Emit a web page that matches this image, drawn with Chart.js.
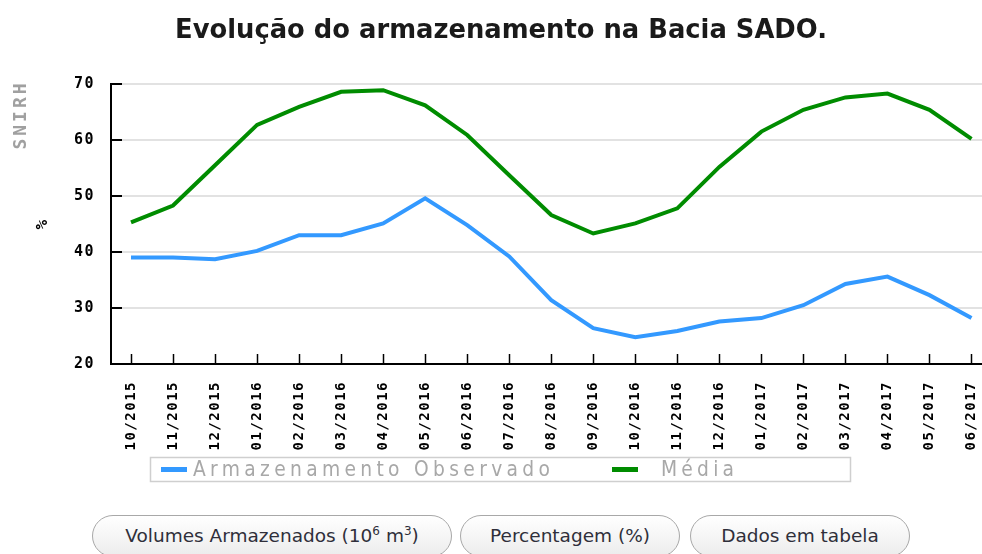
<!DOCTYPE html>
<html>
<head>
<meta charset="utf-8">
<title>Evolução do armazenamento na Bacia SADO</title>
<script src="https://cdn.jsdelivr.net/npm/chart.js@4/dist/chart.umd.min.js"></script>
<style>
  body { margin: 0; background: #fff; }
  #wrap { position: absolute; left: 0; top: 0; width: 982px; height: 505px; }
  .btn {
    position: absolute; top: 515px; height: 42px;
    border: 1px solid #a8a8a8; border-radius: 21px;
    background: linear-gradient(#ffffff, #ececec);
    font-family: "DejaVu Sans", sans-serif; font-size: 18.5px; color: #2f2f3a;
    text-align: center; line-height: 40px; box-sizing: border-box;
  }
  .btn sup { font-size: 12px; line-height: 0; }
</style>
</head>
<body>
<div id="wrap"><canvas id="chart" width="982" height="505"></canvas></div>
<div class="btn" style="left:92px;width:360px">Volumes Armazenados (10<sup>6</sup> m<sup>3</sup>)</div>
<div class="btn" style="left:460px;width:220px">Percentagem (%)</div>
<div class="btn" style="left:690px;width:220px">Dados em tabela</div>
<script>
// data
const months = ['10/2015', '11/2015', '12/2015', '01/2016', '02/2016', '03/2016', '04/2016',
  '05/2016', '06/2016', '07/2016', '08/2016', '09/2016', '10/2016', '11/2016', '12/2016',
  '01/2017', '02/2017', '03/2017', '04/2017', '05/2017', '06/2017'];
const observado = [39.0, 39.0, 38.7, 40.2, 43.0, 43.0, 45.1, 49.6, 44.8, 39.2, 31.4,
  26.4, 24.8, 25.9, 27.6, 28.2, 30.5, 34.3, 35.6, 32.3, 28.2];
const media = [45.3, 48.3, 55.5, 62.7, 65.9, 68.6, 68.9, 66.2, 60.9, 53.7, 46.6,
  43.3, 45.1, 47.8, 55.2, 61.5, 65.4, 67.6, 68.3, 65.4, 60.2];
const yTicks = [20, 30, 40, 50, 60, 70];

const title = 'Evolução do armazenamento na Bacia SADO.';

const toPoints = (arr) => arr.map((v, i) => ({ x: i, y: v }));

// extra drawing: title, SNIRH, inward ticks, legend box
const extras = {
  id: 'extras',
  beforeDraw(chart) {
    chart.ctx.letterSpacing = '1.5px';
  },
  afterDraw(chart) {
    const ctx = chart.ctx;
    const area = chart.chartArea;
    const xs = chart.scales.x, ys = chart.scales.y;
    ctx.save();

    // inward ticks
    ctx.strokeStyle = '#000';
    ctx.lineWidth = 2;
    ys.ticks.forEach(t => {
      const y = Math.round(ys.getPixelForValue(t.value));
      ctx.beginPath(); ctx.moveTo(area.left, y); ctx.lineTo(area.left + 11, y); ctx.stroke();
    });
    ctx.lineWidth = 1.5;
    xs.ticks.forEach(t => {
      const x = Math.round(xs.getPixelForValue(t.value)) + 0.5;
      ctx.beginPath(); ctx.moveTo(x, area.bottom); ctx.lineTo(x, area.bottom - 10); ctx.stroke();
    });

    // title
    ctx.letterSpacing = '0px';
    let size = 22;
    ctx.font = 'bold ' + size + 'px "DejaVu Sans"';
    size = size * 653 / ctx.measureText(title).width;
    ctx.font = 'bold ' + size.toFixed(1) + 'px "DejaVu Sans"';
    ctx.fillStyle = '#1a1a1a';
    ctx.textAlign = 'center';
    ctx.textBaseline = 'alphabetic';
    ctx.fillText(title, 501, 38);

    // SNIRH
    ctx.save();
    ctx.translate(21, 115);
    ctx.rotate(-Math.PI / 2);
    ctx.letterSpacing = '3px';
    ctx.font = 'bold 18px "DejaVu Sans Mono"';
    ctx.fillStyle = '#a0a0a0';
    ctx.textAlign = 'center';
    ctx.textBaseline = 'middle';
    ctx.fillText('SNIRH', 0, 0);
    ctx.restore();

    // legend
    ctx.strokeStyle = '#cfcfcf';
    ctx.lineWidth = 1.5;
    ctx.strokeRect(150.5, 457.5, 700, 24);
    const spots = [[161, 193, 357], [612, 661, 73]];
    ctx.textAlign = 'left';
    ctx.textBaseline = 'middle';
    chart.data.datasets.forEach((ds, i) => {
      const [sx, tx, tw] = spots[i];
      ctx.fillStyle = ds.borderColor;
      ctx.fillRect(sx, 467, 26, 5);
      const k = 0.85;
      ctx.save();
      ctx.translate(tx, 470);
      ctx.scale(k, 1);
      ctx.letterSpacing = '0px';
      ctx.font = '22px "DejaVu Sans"';
      const w = ctx.measureText(ds.label).width * k;
      const sp = (tw - w) / (ds.label.length - 1) / k;
      ctx.letterSpacing = sp.toFixed(2) + 'px';
      ctx.fillStyle = '#a8a8a8';
      ctx.fillText(ds.label, 0, 0);
      ctx.restore();
    });
    ctx.restore();
  }
};

new Chart(document.getElementById('chart'), {
  type: 'line',
  data: {
    datasets: [
      {
        label: 'Armazenamento Observado',
        data: toPoints(observado),
        borderColor: '#3399ff',
        borderWidth: 4,
        pointRadius: 0,
        tension: 0
      },
      {
        label: 'Média',
        data: toPoints(media),
        borderColor: '#008c00',
        borderWidth: 4,
        pointRadius: 0,
        tension: 0
      }
    ]
  },
  options: {
    responsive: false,
    animation: false,
    devicePixelRatio: 1,
    layout: { padding: { top: 84, right: 0, bottom: 0, left: 0 } },
    plugins: {
      legend: { display: false },
      title: { display: false },
      tooltip: { enabled: false }
    },
    scales: {
      x: {
        type: 'linear',
        min: -20 / 42,
        max: 20 + 10.5 / 42,
        afterFit(s) { s.height = 141; s.paddingLeft = 0; s.paddingRight = 0; },
        grid: { display: false, drawTicks: false },
        border: { display: true, color: '#000', width: 2 },
        ticks: {
          stepSize: 1,
          maxTicksLimit: 50,
          includeBounds: false,
          autoSkip: false,
          minRotation: 90,
          maxRotation: 90,
          padding: 17,
          color: '#000',
          font: { family: 'DejaVu Sans Mono', size: 14, weight: 'bold' },
          callback: (v) => months[v]
        }
      },
      y: {
        min: yTicks[0],
        max: yTicks[yTicks.length - 1],
        afterFit(s) { s.width = 111; s.paddingTop = 0; s.paddingBottom = 0; },
        afterBuildTicks(s) { s.ticks = yTicks.map(v => ({ value: v })); },
        grid: { color: '#e2e2e2', lineWidth: 2, drawTicks: false },
        border: { display: true, color: '#000', width: 2 },
        ticks: {
          padding: 16,
          color: '#000',
          font: { family: 'DejaVu Sans Mono', size: 15, weight: 'bold' }
        },
        title: {
          display: true,
          text: '%',
          color: '#000',
          padding: { top: 33, bottom: 0 },
          font: { family: 'DejaVu Sans Mono', size: 16, weight: 'bold' }
        }
      }
    }
  },
  plugins: [extras]
});
</script>
</body>
</html>
